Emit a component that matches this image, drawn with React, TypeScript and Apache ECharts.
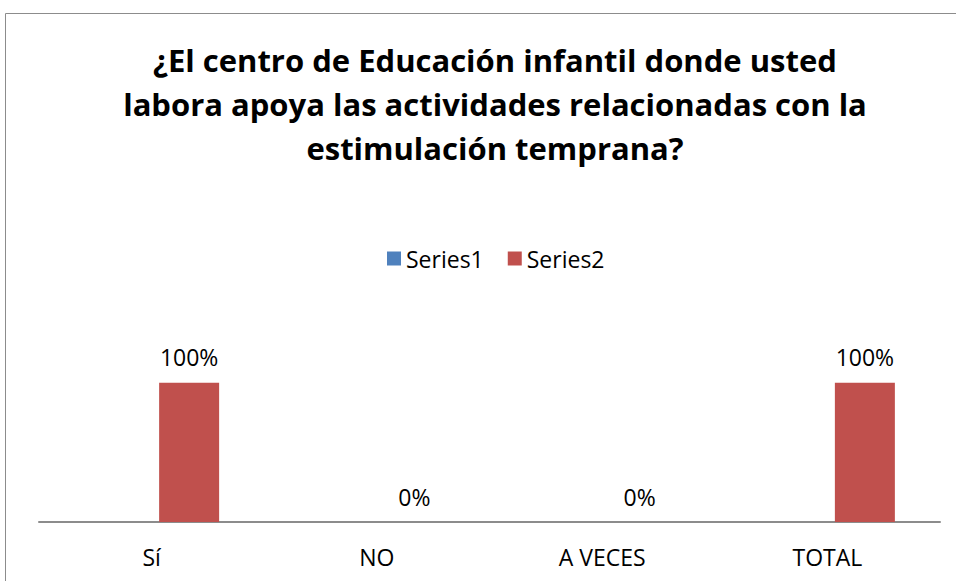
import React, { useEffect, useRef } from "react";
import * as echarts from "echarts";

const categories = ["Sí", "NO", "A VECES", "TOTAL"];
const series1Values = [0, 0, 0, 0];
const series2Values = [1, 0, 0, 1];
const seriesNames = ["Series1", "Series2"];
const titleText =
  "¿El centro de Educación infantil donde usted\nlabora apoya las actividades relacionadas con la\nestimulación temprana?";

const FONT = "'Open Sans', Lato, sans-serif";

export default function App() {
  const ref = useRef<HTMLDivElement>(null);
  useEffect(() => {
    document.body.style.margin = "0";
    if (!ref.current) return;
    const chart = echarts.init(ref.current, undefined, { renderer: "svg" });
    chart.setOption({
      animation: false,
      backgroundColor: "#ffffff",
      title: {
        text: titleText,
        left: 490,
        textAlign: "center",
        top: 33,
        textStyle: {
          fontFamily: FONT,
          fontWeight: "bold",
          fontSize: 31,
          lineHeight: 44,
          color: "#000000",
        },
      },
      legend: {
        data: seriesNames,
        left: 382,
        top: 242,
        itemWidth: 14,
        itemHeight: 14,
        itemGap: 24,
        icon: "rect",
        textStyle: { fontFamily: FONT, fontSize: 23, color: "#000000" },
      },
      graphic: [
        {
          type: "rect",
          shape: { x: 5.5, y: 13.5, width: 1000, height: 1000 },
          style: { fill: "none", stroke: "#8c8c8c", lineWidth: 1 },
          silent: true,
        },
      ],
      grid: { left: 39, right: 16, top: 355, bottom: 59 },
      xAxis: {
        type: "category",
        data: categories,
        axisLine: { lineStyle: { color: "#8c8c8c", width: 2 } },
        axisTick: { show: false },
        axisLabel: {
          fontFamily: FONT,
          fontSize: 23,
          color: "#000000",
          margin: 23,
        },
      },
      yAxis: {
        type: "value",
        min: 0,
        max: 1.2,
        show: false,
        splitLine: { show: false },
      },
      series: [
        {
          name: seriesNames[0],
          type: "bar",
          data: series1Values,
          barWidth: 60,
          barGap: "25%",
          itemStyle: { color: "#4F81BD" },
        },
        {
          name: seriesNames[1],
          type: "bar",
          data: series2Values,
          barWidth: 60,
          barGap: "25%",
          itemStyle: { color: "#C0504D" },
          label: {
            show: true,
            position: "top",
            distance: 14,
            fontFamily: FONT,
            fontSize: 23,
            color: "#000000",
            formatter: (p: any) => Math.round(p.value * 100) + "%",
          },
        },
      ],
    });
    return () => chart.dispose();
  }, []);
  return <div ref={ref} style={{ width: 956, height: 581 }} />;
}
